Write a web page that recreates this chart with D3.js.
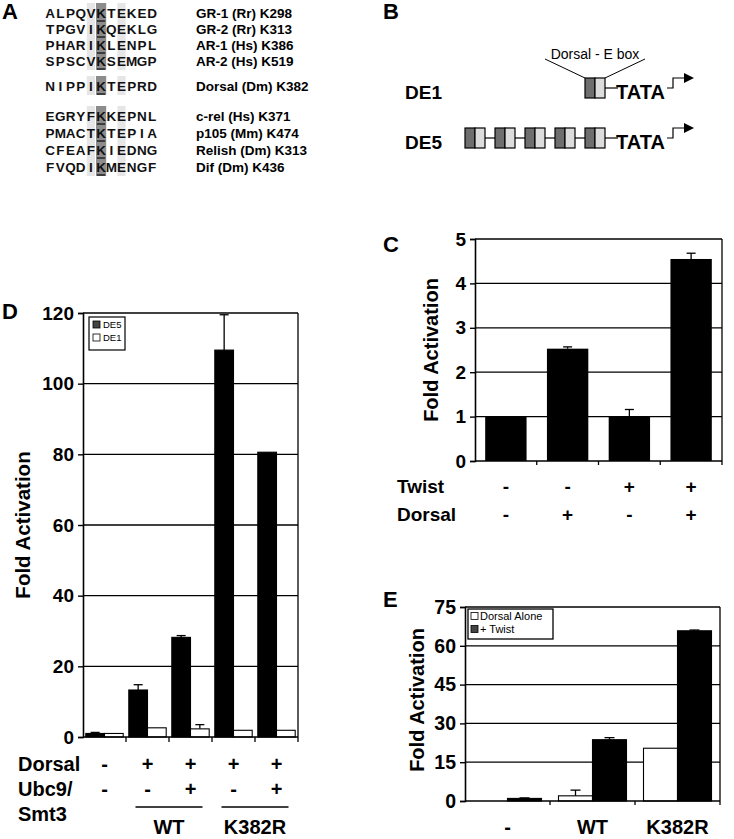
<!DOCTYPE html>
<html><head><meta charset="utf-8">
<script src="https://cdn.jsdelivr.net/npm/d3@7"></script>
<style>
html,body{margin:0;padding:0;background:#fff;}
svg{display:block;}
text{font-family:"Liberation Sans",Arial,sans-serif;}
</style></head>
<body>
<svg id="fig" width="734" height="839"></svg>
<script>
// ---------- Panel A data ----------
const seqs = ["ALPQVKTEKED","TPGVIKQEKLG","PHARIKLENPL","SPSCVKSEMGP","NIPPIKTEPRD","EGRYFKKEPNL","PMACTKTEPIA","CFEAFKIEDNG","FVQDIKMENGF"];
const seqNames = ["GR-1 (Rr) K298","GR-2 (Rr) K313","AR-1 (Hs) K386","AR-2 (Hs) K519","Dorsal (Dm) K382","c-rel (Hs) K371","p105 (Mm) K474","Relish (Dm) K313","Dif (Dm) K436"];

// ---------- Panel B data ----------
const constructs = ["DE1","DE5"];
const siteCounts = [1,5];

// ---------- Panel C data ----------
const cCats = ["a","b","c","d"];
const cValues = [1.0, 2.53, 1.0, 4.55];
const cErrors = [0, 0.04, 0.16, 0.13];
const cTwist = ["-","-","+","+"];
const cDorsal = ["-","+","-","+"];
const cTicks = [0,1,2,3,4,5];

// ---------- Panel D data ----------
const dCats = ["g1","g2","g3","g4","g5"];
const dSeries = ["DE5","DE1"];
const dDE5 = [1.0, 13.3, 28.2, 109.5, 80.6];
const dDE5err = [0.3, 1.5, 0.5, 10.0, 0];
const dDE1 = [1.0, 2.6, 2.3, 1.9, 1.9];
const dDE1err = [0, 0, 1.2, 0, 0];
const dDorsal = ["-","+","+","+","+"];
const dUbc = ["-","-","+","-","+"];
const dTicks = [0,20,40,60,80,100,120];

// ---------- Panel E data ----------
const eCats = ["-","WT","K382R"];
const eSeries = ["Dorsal Alone","+ Twist"];
const eAlone = [0, 2.0, 20.4];
const eAloneErr = [0, 2.2, 0];
const eTwist = [1.0, 23.7, 65.8];
const eTwistErr = [0.2, 0.8, 0.3];
const eTicks = [0,15,30,45,60,75];

const svg = d3.select("#fig");
svg.append("rect").attr("width",734).attr("height",839).attr("fill","#fff");

function panelLabel(t,x,y){
  svg.append("text").attr("x",x).attr("y",y).attr("font-size",22).attr("font-weight","bold").text(t);
}

// ================= Panel A =================
panelLabel("A",2,19);
(function(){
  const g = svg.append("g");
  const x0 = 45, cw = 10.2;
  const rowY = d3.scaleOrdinal().domain(d3.range(seqs.length)).range([13,29,45,61,86,116,133,150,167]);
  const colX = d3.scaleLinear().domain([0,11]).range([x0, x0+11*cw]);
  const groups = [[0,1,2,3],[4],[5,6,7,8]];
  const cols = [{c:4,fill:"#e6e6e6",dark:false},{c:5,fill:"#8c8c8c",dark:true},{c:7,fill:"#e6e6e6",dark:false}];
  groups.forEach(rows=>{
    const y1 = rowY(rows[0]) - 10, y2 = rowY(rows[rows.length-1]) + 9;
    cols.forEach(cc=>{
      g.append("rect").attr("x",colX(cc.c)+(cc.dark?0:1)).attr("y",y1)
        .attr("width",cc.dark?cw:cw-2).attr("height",y2-y1).attr("fill",cc.fill);
    });
  });
  seqs.forEach((s,i)=>{
    const y = rowY(i);
    s.split("").forEach((ch,j)=>{
      g.append("text").attr("x",colX(j)+cw/2).attr("y",y+5).attr("text-anchor","middle")
        .attr("font-family","'Liberation Mono','Courier New',monospace").attr("font-weight","bold")
        .attr("font-size",13.5).attr("fill","#111").text(ch);
    });
    g.append("line").attr("x1",colX(5)+1).attr("x2",colX(6)-1).attr("y1",y+8).attr("y2",y+8)
      .attr("stroke","#111").attr("stroke-width",1.3);
    g.append("text").attr("x",196).attr("y",y+5).attr("font-size",13.5).attr("font-weight","bold").text(seqNames[i]);
  });
})();

// ================= Panel B =================
panelLabel("B",383,19);
(function(){
  const g = svg.append("g");
  const rowTop = {DE1:78, DE5:128};
  const bh = 20, half = 10, gap = 10, endX = 605;
  constructs.forEach((name,k)=>{
    const n = siteCounts[k];
    const top = rowTop[name], mid = top+bh/2;
    g.append("text").attr("x",405).attr("y",top+bh+1).attr("font-size",19).attr("font-weight","bold").text(name);
    const xs = d3.range(n).map(i=> endX - 2*half - (n-1-i)*(2*half+gap));
    for(let i=0;i<n-1;i++){
      g.append("line").attr("x1",xs[i]+2*half).attr("x2",xs[i+1]).attr("y1",mid).attr("y2",mid).attr("stroke","#000").attr("stroke-width",1.2);
    }
    xs.forEach(x=>{
      g.append("rect").attr("x",x).attr("y",top).attr("width",half).attr("height",bh).attr("fill","#6e6e6e").attr("stroke","#000").attr("stroke-width",1.2);
      g.append("rect").attr("x",x+half).attr("y",top).attr("width",half).attr("height",bh).attr("fill","#dcdcdc").attr("stroke","#000").attr("stroke-width",1.2);
    });
    g.append("line").attr("x1",endX).attr("x2",618).attr("y1",mid).attr("y2",mid).attr("stroke","#000").attr("stroke-width",1.2);
    g.append("text").attr("x",616).attr("y",top+bh+1).attr("font-size",20).attr("font-weight","bold").text("TATA");
    g.append("path").attr("d",`M667,${mid} H673 V${top} H686`).attr("fill","none").attr("stroke","#000").attr("stroke-width",1.2);
    g.append("path").attr("d",`M684,${top-5} L694,${top} L684,${top+5} Z`).attr("fill","#000");
  });
  g.append("text").attr("x",595).attr("y",59).attr("text-anchor","middle").attr("font-size",14).text("Dorsal - E box");
  g.append("line").attr("x1",545).attr("y1",59).attr("x2",585).attr("y2",78).attr("stroke","#000").attr("stroke-width",1);
  g.append("line").attr("x1",645).attr("y1",59).attr("x2",605).attr("y2",78).attr("stroke","#000").attr("stroke-width",1);
})();

// ================= helpers =================
function frame(g, x0,x1,yScale,ticks, tickFont){
  const yTop = yScale(ticks[ticks.length-1]), yBot = yScale(0);
  g.selectAll(null).data(ticks.slice(1)).join("line")
    .attr("x1",x0).attr("x2",x1).attr("y1",d=>yScale(d)).attr("y2",d=>yScale(d))
    .attr("stroke","#000").attr("stroke-width",1.3);
  g.append("line").attr("x1",x1).attr("x2",x1).attr("y1",yTop).attr("y2",yBot).attr("stroke","#000").attr("stroke-width",1.3);
  const ax = g.append("g").attr("transform",`translate(${x0},0)`)
    .call(d3.axisLeft(yScale).tickValues(ticks).tickSize(5).tickPadding(4).tickFormat(d3.format("d")));
  ax.select(".domain").attr("stroke","#000").attr("stroke-width",1.6);
  ax.selectAll(".tick line").attr("stroke","#000").attr("stroke-width",1.4);
  ax.selectAll(".tick text").attr("font-family","'Liberation Sans',Arial,sans-serif").attr("font-weight","bold").attr("font-size",tickFont).attr("fill","#000");
}
function ylabel(g,x,y,size){
  g.append("text").attr("transform",`translate(${x},${y}) rotate(-90)`).attr("text-anchor","middle")
    .attr("font-size",size).attr("font-weight","bold").text("Fold Activation");
}
function errBar(g,cx,yA,yB,cap){
  g.append("line").attr("x1",cx).attr("x2",cx).attr("y1",yA).attr("y2",yB).attr("stroke","#000").attr("stroke-width",1.3);
  g.append("line").attr("x1",cx-cap/2).attr("x2",cx+cap/2).attr("y1",yB).attr("y2",yB).attr("stroke","#000").attr("stroke-width",1.3);
}

// ================= Panel C =================
panelLabel("C",383,252);
(function(){
  const g = svg.append("g");
  const x0=475, x1=722;
  const y = d3.scaleLinear().domain([0,5]).range([461,239]);
  const xg = d3.scaleBand().domain(cCats).range([x0,x1]).paddingInner(0.33).paddingOuter(0.165);
  const xb = d3.scaleBand().domain(cCats).range([x0,x1]);
  frame(g,x0,x1,y,cTicks,19);
  cCats.forEach((c,i)=>{
    if(cErrors[i]>0) errBar(g,xg(c)+xg.bandwidth()/2,y(cValues[i]),y(cValues[i]+cErrors[i]),9);
    g.append("rect").attr("x",xg(c)).attr("y",y(cValues[i])).attr("width",xg.bandwidth()).attr("height",y(0)-y(cValues[i])).attr("fill","#000");
  });
  g.append("line").attr("x1",x0).attr("x2",x1).attr("y1",y(0)).attr("y2",y(0)).attr("stroke","#000").attr("stroke-width",1.6);
  cCats.slice(1).forEach(c=>{
    g.append("line").attr("x1",xb(c)).attr("x2",xb(c)).attr("y1",y(0)).attr("y2",y(0)+4).attr("stroke","#000").attr("stroke-width",1.3);
  });
  g.append("line").attr("x1",x1).attr("x2",x1).attr("y1",y(0)).attr("y2",y(0)+4).attr("stroke","#000").attr("stroke-width",1.3);
  ylabel(g,438,350,20);
  g.append("text").attr("x",397).attr("y",493).attr("font-size",19).attr("font-weight","bold").text("Twist");
  g.append("text").attr("x",397).attr("y",521).attr("font-size",19).attr("font-weight","bold").text("Dorsal");
  cCats.forEach((c,i)=>{
    const cx = xb(c)+xb.bandwidth()/2;
    g.append("text").attr("x",cx).attr("y",493).attr("text-anchor","middle").attr("font-size",19).attr("font-weight","bold").text(cTwist[i]);
    g.append("text").attr("x",cx).attr("y",521).attr("text-anchor","middle").attr("font-size",19).attr("font-weight","bold").text(cDorsal[i]);
  });
})();

// ================= Panel D =================
panelLabel("D",2,319);
(function(){
  const g = svg.append("g");
  const x0=83, x1=298;
  const y = d3.scaleLinear().domain([0,120]).range([737,313]);
  const xg = d3.scaleBand().domain(dCats).range([x0,x1]);
  const xs = d3.scaleBand().domain(dSeries).range([0,xg.bandwidth()]).paddingInner(0).paddingOuter(0.15);
  frame(g,x0,x1,y,dTicks,19);
  const vals = {DE5:dDE5, DE1:dDE1}, errs={DE5:dDE5err, DE1:dDE1err}, fills={DE5:"#000",DE1:"#fff"};
  dCats.forEach((c,i)=>{
    dSeries.forEach(s=>{
      const v = vals[s][i], e = errs[s][i];
      const bx = xg(c)+xs(s);
      if(e>0) errBar(g,bx+xs.bandwidth()/2,y(v),y(v+e),9);
      g.append("rect").attr("x",bx).attr("y",y(v)).attr("width",xs.bandwidth()).attr("height",y(0)-y(v))
        .attr("fill",fills[s]).attr("stroke","#000").attr("stroke-width",1.1);
    });
  });
  g.append("line").attr("x1",x0).attr("x2",x1).attr("y1",y(0)).attr("y2",y(0)).attr("stroke","#000").attr("stroke-width",1.6);
  dCats.slice(1).concat([null]).forEach(c=>{
    const xx = c? xg(c) : x1;
    g.append("line").attr("x1",xx).attr("x2",xx).attr("y1",y(0)).attr("y2",y(0)+5).attr("stroke","#000").attr("stroke-width",1.3);
  });
  const lg = g.append("g");
  lg.append("rect").attr("x",89).attr("y",317).attr("width",36).attr("height",33).attr("fill","#fff").attr("stroke","#000").attr("stroke-width",1.2);
  dSeries.forEach((s,i)=>{
    const yy = 321+i*13;
    lg.append("rect").attr("x",93).attr("y",yy).attr("width",7).attr("height",7).attr("fill",s==="DE5"?"#444":"#fff").attr("stroke","#000").attr("stroke-width",0.8);
    lg.append("text").attr("x",103).attr("y",yy+7).attr("font-size",9.5).text(s);
  });
  ylabel(g,30,525,20.5);
  const rows = [["Dorsal",dDorsal,771],["Ubc9/",dUbc,796]];
  rows.forEach(r=>{
    g.append("text").attr("x",18).attr("y",r[2]).attr("font-size",20).attr("font-weight","bold").text(r[0]);
    dCats.forEach((c,i)=>{
      g.append("text").attr("x",xg(c)+xg.bandwidth()/2).attr("y",r[2]).attr("text-anchor","middle").attr("font-size",20).attr("font-weight","bold").text(r[1][i]);
    });
  });
  g.append("text").attr("x",18).attr("y",821).attr("font-size",20).attr("font-weight","bold").text("Smt3");
  const grp = [["WT","g2","g3"],["K382R","g4","g5"]];
  grp.forEach(gr=>{
    const a = xg(gr[1])+xg.bandwidth()/2 - 12, b = xg(gr[2])+xg.bandwidth()/2 + 12;
    g.append("line").attr("x1",a).attr("x2",b).attr("y1",807).attr("y2",807).attr("stroke","#000").attr("stroke-width",1.5);
    g.append("text").attr("x",(a+b)/2).attr("y",834).attr("text-anchor","middle").attr("font-size",20).attr("font-weight","bold").text(gr[0]);
  });
})();

// ================= Panel E =================
panelLabel("E",383,607);
(function(){
  const g = svg.append("g");
  const x0=465, x1=720;
  const y = d3.scaleLinear().domain([0,75]).range([801,607]);
  const xg = d3.scaleBand().domain(eCats).range([x0,x1]);
  const xs = d3.scaleBand().domain(eSeries).range([0,xg.bandwidth()]).paddingInner(0).paddingOuter(0.25);
  frame(g,x0,x1,y,eTicks,19.5);
  const vals = {"Dorsal Alone":eAlone,"+ Twist":eTwist}, errs={"Dorsal Alone":eAloneErr,"+ Twist":eTwistErr}, fills={"Dorsal Alone":"#fff","+ Twist":"#000"};
  eCats.forEach((c,i)=>{
    eSeries.forEach(s=>{
      const v = vals[s][i], e = errs[s][i];
      const bx = xg(c)+xs(s);
      if(e>0) errBar(g,bx+xs.bandwidth()/2,y(v),y(v+e),10);
      if(v>0) g.append("rect").attr("x",bx).attr("y",y(v)).attr("width",xs.bandwidth()).attr("height",y(0)-y(v))
        .attr("fill",fills[s]).attr("stroke","#000").attr("stroke-width",1.1);
    });
  });
  g.append("line").attr("x1",x0).attr("x2",x1).attr("y1",y(0)).attr("y2",y(0)).attr("stroke","#000").attr("stroke-width",1.6);
  eCats.slice(1).concat([null]).forEach(c=>{
    const xx = c? xg(c) : x1;
    g.append("line").attr("x1",xx).attr("x2",xx).attr("y1",y(0)).attr("y2",y(0)+4).attr("stroke","#000").attr("stroke-width",1.3);
  });
  const lg = g.append("g");
  lg.append("rect").attr("x",468).attr("y",609).attr("width",85).attr("height",30).attr("fill","#fff").attr("stroke","#000").attr("stroke-width",1.3);
  eSeries.forEach((s,i)=>{
    const yy = 612.5+i*13;
    lg.append("rect").attr("x",471).attr("y",yy).attr("width",7).attr("height",7).attr("fill",s==="+ Twist"?"#444":"#fff").attr("stroke","#000").attr("stroke-width",0.8);
    lg.append("text").attr("x",480).attr("y",yy+7.5).attr("font-size",11).text(s);
  });
  ylabel(g,424,700,20);
  eCats.forEach(c=>{
    g.append("text").attr("x",xg(c)+xg.bandwidth()/2).attr("y",834).attr("text-anchor","middle").attr("font-size",20).attr("font-weight","bold").text(c);
  });
})();
</script>
</body></html>
